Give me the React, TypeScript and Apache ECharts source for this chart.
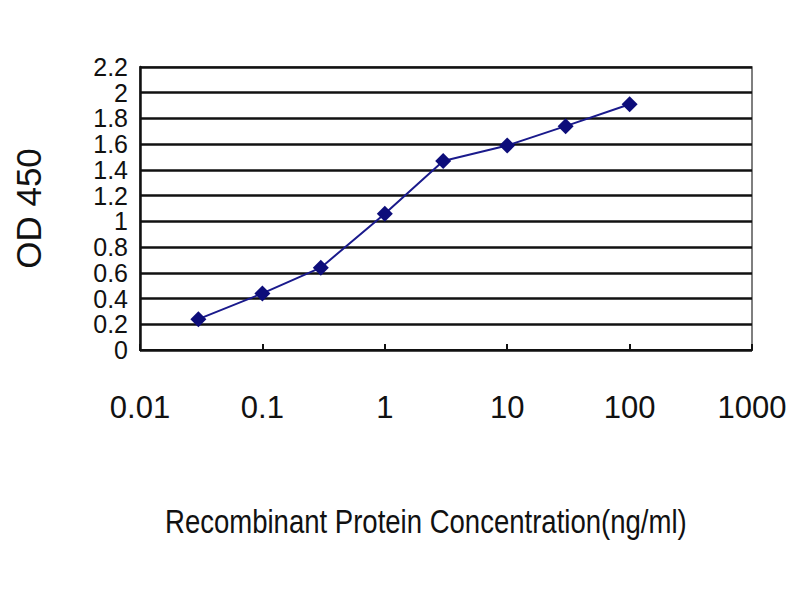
import React, { useEffect, useRef } from "react";
import * as echarts from "echarts";

const concentrations = [0.03, 0.1, 0.3, 1, 3, 10, 30, 100];
const odValues = [0.24, 0.44, 0.64, 1.06, 1.47, 1.59, 1.74, 1.91];
const xTickLabels = ["0.01", "0.1", "1", "10", "100", "1000"];
const yTickLabels = ["0", "0.2", "0.4", "0.6", "0.8", "1", "1.2", "1.4", "1.6", "1.8", "2", "2.2"];
const xTitle = "Recombinant Protein Concentration(ng/ml)";
const yTitle = "OD 450";

export default function App() {
  const ref = useRef<HTMLDivElement>(null);
  useEffect(() => {
    if (!ref.current) return;
    const chart = echarts.init(ref.current, null, { renderer: "svg" });
    chart.setOption({
      animation: false,
      backgroundColor: "#ffffff",
      grid: {
        left: 140,
        right: 48,
        top: 67,
        bottom: 250,
        show: true,
        borderColor: "#555",
        borderWidth: 1.5,
        backgroundColor: "transparent",
      },
      xAxis: {
        type: "log",
        logBase: 10,
        min: 0.01,
        max: 1000,
        axisLine: { show: true, lineStyle: { color: "#111", width: 2 } },
        axisTick: { show: true, inside: true, length: 6, lineStyle: { color: "#111", width: 2 } },
        splitLine: { show: false },
        minorTick: { show: false },
        axisLabel: {
          margin: 42,
          fontFamily: "Liberation Sans",
          fontSize: 31,
          color: "#111",
          formatter: (_v: number, i: number) => xTickLabels[i] ?? "",
        },
      },
      yAxis: {
        type: "value",
        min: 0,
        max: 2.2,
        interval: 0.2,
        axisLine: { show: true, lineStyle: { color: "#111", width: 2.5 } },
        axisTick: { show: false },
        splitLine: { show: true, lineStyle: { color: "#111", width: 2.5 } },
        axisLabel: {
          margin: 12,
          fontFamily: "Liberation Sans",
          fontSize: 25,
          color: "#111",
          formatter: (_v: number, i: number) => yTickLabels[i] ?? "",
        },
        name: yTitle,
        nameLocation: "middle",
        nameGap: 94,
        nameRotate: 90,
        nameTextStyle: { fontFamily: "Liberation Sans", fontSize: 35, color: "#111" },
      },
      graphic: [
        {
          type: "text",
          x: 165,
          y: 521,
          scaleX: 0.81,
          style: {
            text: xTitle,
            fontFamily: "Liberation Sans",
            fontSize: 34,
            fill: "#111",
            align: "left",
            verticalAlign: "middle",
          },
        },
      ],
      series: [
        {
          type: "line",
          data: concentrations.map((c, i) => [c, odValues[i]]),
          symbol: "diamond",
          symbolSize: 16,
          lineStyle: { color: "#1a1a8c", width: 2 },
          itemStyle: { color: "#0d0d7a" },
        },
      ],
    });
    return () => chart.dispose();
  }, []);
  return <div ref={ref} style={{ width: 800, height: 600, position: "absolute", left: 0, top: 0 }} />;
}
